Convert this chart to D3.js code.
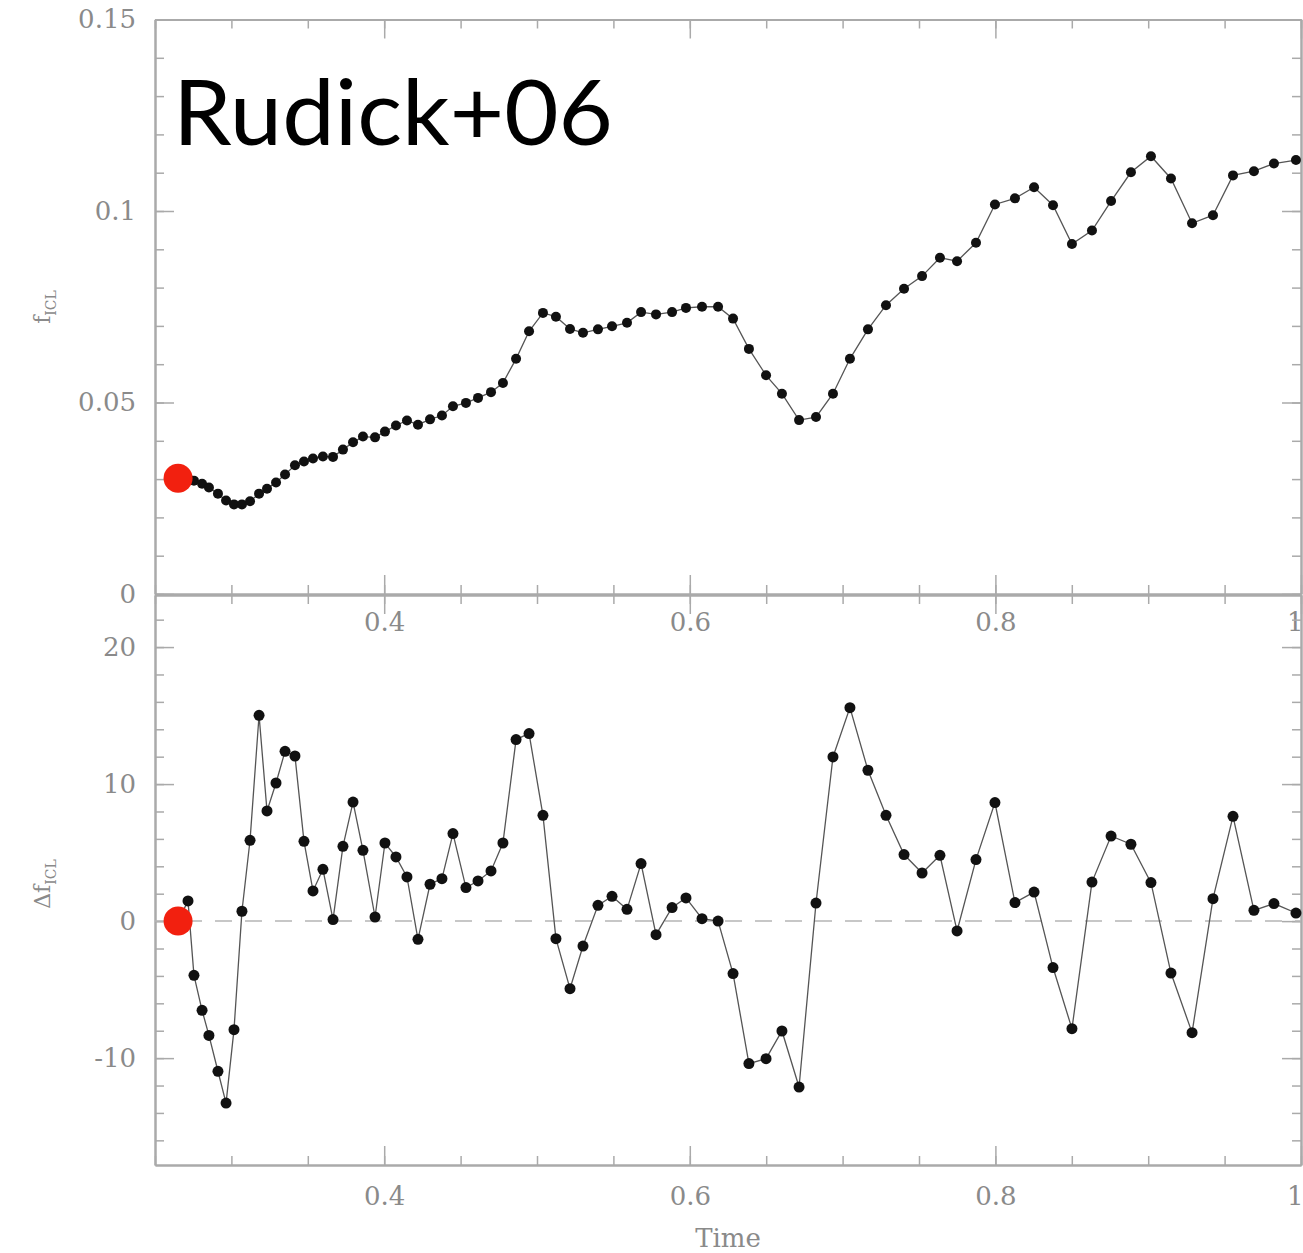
<!DOCTYPE html>
<html>
<head>
<meta charset="utf-8">
<script src="https://cdn.jsdelivr.net/npm/d3@7"></script>
<style>
  html, body { margin: 0; padding: 0; background: #fff; }
  svg { display: block; }
</style>
</head>
<body>
<svg id="chart" width="1303" height="1253"></svg>
<script>
// simulation time of each output
const time = [
  0.2651, 0.2716, 0.2755, 0.2808, 0.2853, 0.2912, 0.2965, 0.3017, 0.3069, 0.3122,
  0.3181, 0.3233, 0.3292, 0.3351, 0.3416, 0.3475, 0.3534, 0.3599, 0.3665, 0.3730,
  0.3796, 0.3861, 0.3940, 0.4005, 0.4077, 0.4149, 0.4221, 0.4300, 0.4378, 0.4450,
  0.4535, 0.4614, 0.4699, 0.4777, 0.4863, 0.4948, 0.5039, 0.5124, 0.5216, 0.5301,
  0.5399, 0.5491, 0.5589, 0.5681, 0.5779, 0.5884, 0.5975, 0.6080, 0.6185, 0.6283,
  0.6387, 0.6499, 0.6603, 0.6715, 0.6826, 0.6937, 0.7048, 0.7166, 0.7284, 0.7402,
  0.7520, 0.7637, 0.7749, 0.7873, 0.7997, 0.8128, 0.8253, 0.8377, 0.8501, 0.8632,
  0.8757, 0.8887, 0.9018, 0.9149, 0.9287, 0.9424, 0.9555, 0.9692, 0.9823, 0.9967
];

// ICL fraction
const fICL = [
  0.0302, 0.0303, 0.0296, 0.0288, 0.0278, 0.0262, 0.0244, 0.0234, 0.0234, 0.0242,
  0.0262, 0.0275, 0.0291, 0.0312, 0.0336, 0.0346, 0.0354, 0.0359, 0.0358, 0.0377,
  0.0396, 0.0411, 0.0409, 0.0424, 0.0440, 0.0453, 0.0442, 0.0456, 0.0466, 0.0490,
  0.0499, 0.0512, 0.0527, 0.0551, 0.0614, 0.0686, 0.0734, 0.0724, 0.0692, 0.0682,
  0.0691, 0.0699, 0.0708, 0.0736, 0.0730, 0.0736, 0.0747, 0.0750, 0.0750, 0.0719,
  0.0640, 0.0571, 0.0523, 0.0454, 0.0462, 0.0523, 0.0614, 0.0691, 0.0754, 0.0797,
  0.0830, 0.0878, 0.0869, 0.0917, 0.1017, 0.1033, 0.1062, 0.1015, 0.0914, 0.0949,
  0.1026, 0.1101, 0.1143, 0.1085, 0.0968, 0.0989, 0.1093, 0.1104, 0.1124, 0.1133
];

// change in ICL fraction
const dfICL = [
  0.0, 1.47, -3.96, -6.51, -8.34, -10.96, -13.28, -7.92, 0.72, 5.90,
  15.02, 8.04, 10.08, 12.39, 12.05, 5.82, 2.20, 3.78, 0.11, 5.46,
  8.69, 5.17, 0.30, 5.70, 4.68, 3.22, -1.33, 2.69, 3.10, 6.39,
  2.45, 2.93, 3.66, 5.70, 13.25, 13.69, 7.72, -1.28, -4.93, -1.82,
  1.15, 1.81, 0.86, 4.20, -0.99, 0.99, 1.69, 0.18, 0.0, -3.83,
  -10.40, -10.04, -8.02, -12.11, 1.32, 11.98, 15.58, 11.01, 7.72, 4.86,
  3.51, 4.80, -0.72, 4.49, 8.65, 1.35, 2.12, -3.39, -7.85, 2.85,
  6.21, 5.61, 2.81, -3.79, -8.14, 1.64, 7.65, 0.79, 1.28, 0.59
];

const timeTicks = [0.4, 0.6, 0.8, 1];
const fTicks = [0, 0.05, 0.1, 0.15];
const dfTicks = [-10, 0, 10, 20];

const left = 155, right = 1301;

const svg = d3.select('#chart');

const x = d3.scaleLinear().domain([0.25, 1]).range([left, right]);
const yF = d3.scaleLinear().domain([0, 0.15]).range([594, 19.5]);
const yD = d3.scaleLinear().domain([-17.8, 23.8]).range([1165, 595]);

const xMinor = d3.range(5, 21).map(i => i * 0.05);
const fMinor = d3.range(0, 16).map(i => i * 0.01);
const dfMinor = d3.range(-8, 12).map(i => i * 2);

const axisColor = '#aaa';
const labelColor = '#8a8a8a';

function styleAxis(g) {
  g.attr('font-family', '"DejaVu Serif", serif').attr('font-size', 26);
  g.select('.domain').attr('stroke', axisColor).attr('stroke-width', 2);
  g.selectAll('.tick line').attr('stroke', axisColor).attr('stroke-width', 1.5);
  g.selectAll('.tick text').attr('fill', labelColor);
}

function frame(y, yMajor, yMinor, xPad) {
  const [yb, yt] = y.range();

  const sets = [
    [() => d3.axisBottom(x), `translate(0,${yb})`, timeTicks, xMinor, true, xPad],
    [() => d3.axisTop(x), `translate(0,${yt})`, timeTicks, xMinor, false, 0],
    [() => d3.axisLeft(y), `translate(${left},0)`, yMajor, yMinor, true, 19],
    [() => d3.axisRight(y), `translate(${right},0)`, yMajor, yMinor, false, 0]
  ];

  sets.forEach(([make, tr, major, minor, labels, pad]) => {
    svg.append('g')
      .attr('transform', tr)
      .call(make().tickValues(minor).tickSize(-9).tickSizeOuter(0).tickFormat(''))
      .call(styleAxis);

    const g = svg.append('g')
      .attr('transform', tr)
      .call(make().tickValues(major).tickSize(-19).tickSizeOuter(0)
        .tickPadding(pad).tickFormat(labels ? d => String(d) : ''))
      .call(styleAxis);

    // the last time label sits on the right edge: keep it inside
    g.selectAll('.tick text').filter(d => d === 1 && major === timeTicks)
      .attr('text-anchor', 'end').attr('x', 2);
  });
}

frame(yF, fTicks, fMinor, 19);
frame(yD, dfTicks, dfMinor, 22);

// zero reference line
svg.append('line')
  .attr('x1', left).attr('x2', right)
  .attr('y1', yD(0)).attr('y2', yD(0))
  .attr('stroke', '#b5b5b5')
  .attr('stroke-width', 1.5)
  .attr('stroke-dasharray', '17,13');

function series(vals, y, r) {
  const pts = time.map((t, i) => ({ t, v: vals[i] }));

  svg.append('path')
    .datum(pts)
    .attr('fill', 'none')
    .attr('stroke', '#555')
    .attr('stroke-width', 1.3)
    .attr('d', d3.line().x(d => x(d.t)).y(d => y(d.v)));

  svg.append('g')
    .selectAll('circle')
    .data(pts.slice(1))
    .join('circle')
    .attr('cx', d => x(d.t))
    .attr('cy', d => y(d.v))
    .attr('r', r)
    .attr('fill', '#111');

  svg.append('circle')
    .attr('cx', x(pts[0].t))
    .attr('cy', y(pts[0].v))
    .attr('r', 14.5)
    .attr('fill', '#f2200f');
}

series(fICL, yF, 5);
series(dfICL, yD, 5.5);

// axis titles
const fLabel = svg.append('text')
  .attr('transform', 'translate(50,307) rotate(-90)')
  .attr('text-anchor', 'middle')
  .attr('font-family', '"DejaVu Serif", serif')
  .attr('font-size', 22)
  .attr('fill', labelColor);
fLabel.append('tspan').text('f');
fLabel.append('tspan').attr('font-size', 14).attr('dy', 6).text('ICL');

const dLabel = svg.append('text')
  .attr('transform', 'translate(50,884) rotate(-90)')
  .attr('text-anchor', 'middle')
  .attr('font-family', '"DejaVu Serif", serif')
  .attr('font-size', 22)
  .attr('fill', labelColor);
dLabel.append('tspan').text('Δf');
dLabel.append('tspan').attr('font-size', 14).attr('dy', 6).text('ICL');

svg.append('text')
  .attr('x', 728)
  .attr('y', 1247)
  .attr('text-anchor', 'middle')
  .attr('font-family', '"DejaVu Serif", serif')
  .attr('font-size', 26)
  .attr('fill', labelColor)
  .text('Time');

svg.append('text')
  .attr('x', 173)
  .attr('y', 145)
  .attr('font-family', '"Comic Sans MS", Lato, sans-serif')
  .attr('font-size', 92)
  .attr('textLength', 440)
  .attr('lengthAdjust', 'spacingAndGlyphs')
  .attr('fill', '#000')
  .text('Rudick+06');
</script>
</body>
</html>
